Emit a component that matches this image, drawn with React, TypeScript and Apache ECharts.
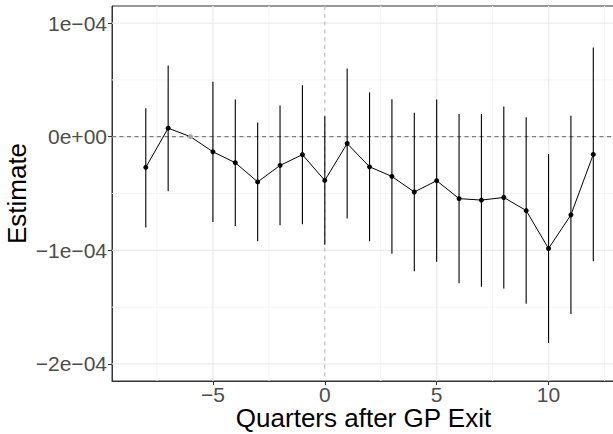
import React, { useEffect, useRef } from 'react';
import * as echarts from 'echarts';

// Event-study estimates (units: raw estimate)
const quarters = [-8, -7, -6, -5, -4, -3, -2, -1, 0, 1, 2, 3, 4, 5, 6, 7, 8, 9, 10, 11, 12];
const estimates = [
  -0.27e-4, 0.075e-4, 0, -0.133e-4, -0.229e-4, -0.398e-4, -0.253e-4, -0.158e-4, -0.385e-4, -0.06e-4,
  -0.265e-4, -0.35e-4, -0.487e-4, -0.387e-4, -0.545e-4, -0.558e-4, -0.535e-4, -0.65e-4, -0.984e-4, -0.688e-4, -0.156e-4,
];
const lower = [
  -0.80e-4, -0.48e-4, null, -0.75e-4, -0.785e-4, -0.92e-4, -0.78e-4, -0.77e-4, -0.95e-4, -0.72e-4,
  -0.92e-4, -1.03e-4, -1.185e-4, -1.10e-4, -1.29e-4, -1.32e-4, -1.335e-4, -1.47e-4, -1.815e-4, -1.56e-4, -1.097e-4,
];
const upper = [
  0.25e-4, 0.627e-4, null, 0.483e-4, 0.327e-4, 0.124e-4, 0.274e-4, 0.453e-4, 0.18e-4, 0.60e-4,
  0.39e-4, 0.33e-4, 0.21e-4, 0.327e-4, 0.20e-4, 0.20e-4, 0.265e-4, 0.17e-4, -0.153e-4, 0.185e-4, 0.785e-4,
];
const referenceQuarter = -6;

const xTickValues = [-5, 0, 5, 10];
const xTickLabels = ['\u22125', '0', '5', '10'];
const xMinorGrid = [-7.5, -2.5, 2.5, 7.5, 12.5];
const yTickValues = [-2e-4, -1e-4, 0, 1e-4];
const yTickLabels = ['\u22122e\u221204', '\u22121e\u221204', '0e+00', '1e\u221204'];
const yMinorGrid = [-1.5e-4, -0.5e-4, 0.5e-4];

const FONT = '"Liberation Sans", Arial, Helvetica, sans-serif';

function labelFor(values: number[], labels: string[], v: number): string {
  let best = -1;
  let bestDiff = Infinity;
  for (let i = 0; i < values.length; i++) {
    const d = Math.abs(values[i] - v);
    if (d < bestDiff) {
      bestDiff = d;
      best = i;
    }
  }
  const scale = Math.max(...values.map((x) => Math.abs(x)));
  return best >= 0 && bestDiff < scale * 1e-6 ? labels[best] : '';
}

function gridSeries(values: number[], vertical: boolean, color: string, width: number, z: number, dash?: number[]) {
  return {
    type: 'custom',
    z,
    silent: true,
    data: values.map((v) => [v]),
    encode: vertical ? { x: 0 } : { y: 0 },
    renderItem: (params: any, api: any) => {
      const cs = params.coordSys;
      const v = api.value(0);
      let shape;
      if (vertical) {
        const px = api.coord([v, 0])[0];
        shape = { x1: px, y1: cs.y, x2: px, y2: cs.y + cs.height };
      } else {
        const py = api.coord([0, v])[1];
        shape = { x1: cs.x, y1: py, x2: cs.x + cs.width, y2: py };
      }
      return {
        type: 'line',
        shape,
        style: { stroke: color, lineWidth: width, lineDash: dash || null, fill: null },
      };
    },
  };
}

export default function App() {
  const ref = useRef<HTMLDivElement>(null);

  useEffect(() => {
    if (!ref.current) return;
    const chart = echarts.init(ref.current, undefined, { renderer: 'svg' });

    const errData = quarters
      .map((q, i) => [q, lower[i], upper[i]])
      .filter((d) => d[1] !== null && d[2] !== null);

    const pointData = quarters.map((q, i) => ({
      value: [q, estimates[i]],
      itemStyle: { color: q === referenceQuarter ? '#A6A6A6' : '#000000' },
    }));

    chart.setOption({
      animation: false,
      textStyle: { fontFamily: FONT },
      grid: {
        left: 112,
        top: 6,
        right: -2,
        bottom: 53,
        show: true,
        borderColor: '#333333',
        borderWidth: 1,
        backgroundColor: '#FFFFFF',
        containLabel: false,
        outerBoundsMode: 'none',
      },
      xAxis: {
        type: 'value',
        min: -9.51,
        max: 12.97,
        splitLine: { show: false },
        axisLine: { show: true, onZero: false, lineStyle: { color: '#333333', width: 1 } },
        axisTick: { show: true, customValues: xTickValues, length: 4, lineStyle: { color: '#333333', width: 1 } },
        axisLabel: {
          customValues: xTickValues,
          formatter: (v: number) => labelFor(xTickValues, xTickLabels, v),
          color: '#4D4D4D',
          fontSize: 21,
          fontFamily: FONT,
          margin: 3,
        },
        name: 'Quarters after GP Exit',
        nameLocation: 'middle',
        nameGap: 24,
        nameMoveOverlap: false,
        nameTextStyle: { fontSize: 26, color: '#000000', fontFamily: FONT, verticalAlign: 'top' },
      },
      yAxis: {
        type: 'value',
        min: -2.15e-4,
        max: 1.15e-4,
        splitLine: { show: false },
        axisLine: { show: true, onZero: false, lineStyle: { color: '#333333', width: 1 } },
        axisTick: { show: true, customValues: yTickValues, length: 4, lineStyle: { color: '#333333', width: 1 } },
        axisLabel: {
          customValues: yTickValues,
          formatter: (v: number) => labelFor(yTickValues, yTickLabels, v),
          color: '#4D4D4D',
          fontSize: 21,
          fontFamily: FONT,
          margin: 5,
        },
        name: 'Estimate',
        nameLocation: 'middle',
        nameGap: 82,
        nameMoveOverlap: false,
        nameTextStyle: { fontSize: 26, color: '#000000', fontFamily: FONT },
      },
      series: [
        gridSeries(xMinorGrid, true, '#F4F4F4', 1, 1),
        gridSeries(yMinorGrid, false, '#F4F4F4', 1, 1),
        gridSeries(xTickValues.filter((v) => v !== 0), true, '#EBEBEB', 1.3, 2),
        gridSeries(yTickValues, false, '#EBEBEB', 1.3, 2),
        gridSeries([0], true, '#BDBDBD', 1.2, 3, [4, 3.8]),
        gridSeries([0], false, '#7F7F7F', 1.3, 3, [4, 3.5]),
        {
          type: 'custom',
          z: 9,
          silent: true,
          encode: { x: 0, y: [1, 2] },
          data: errData,
          renderItem: (params: any, api: any) => {
            const x = api.value(0);
            const p1 = api.coord([x, api.value(1)]);
            const p2 = api.coord([x, api.value(2)]);
            return {
              type: 'line',
              shape: { x1: p1[0], y1: p1[1], x2: p2[0], y2: p2[1] },
              style: { stroke: '#000000', lineWidth: 1.1 },
            };
          },
        },
        {
          type: 'line',
          z: 10,
          silent: true,
          data: pointData,
          symbol: 'circle',
          symbolSize: 5,
          showSymbol: true,
          lineStyle: { color: '#000000', width: 1 },
          itemStyle: { color: '#000000' },
        },
      ],
    });

    return () => chart.dispose();
  }, []);

  return (
    <div
      ref={ref}
      style={{ position: 'fixed', left: 0, top: 0, width: 613, height: 434, background: '#FFFFFF' }}
    />
  );
}
